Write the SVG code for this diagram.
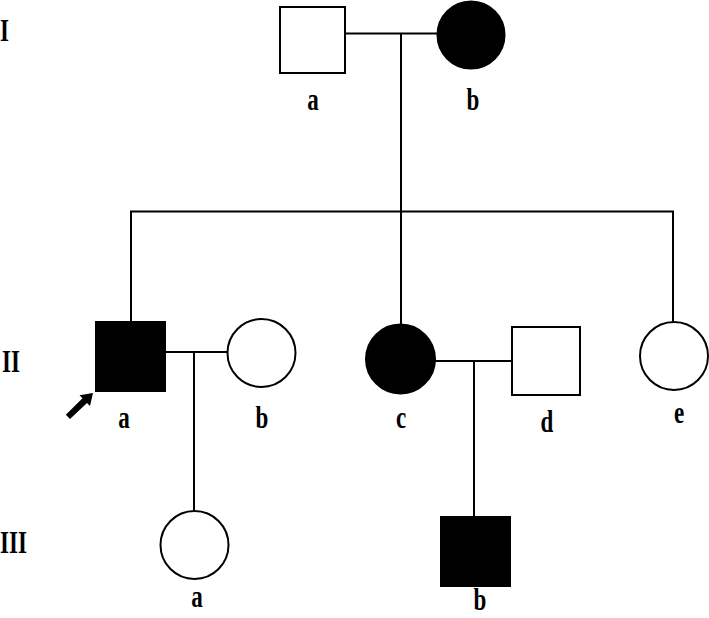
<svg xmlns="http://www.w3.org/2000/svg" width="709" height="618" viewBox="0 0 709 618">
<style>
.sym{stroke:#000;stroke-width:2;fill:#fff}
.aff{fill:#000}
.ln{stroke:#000;stroke-width:2;fill:none}
.t{font-family:"Liberation Serif","Times New Roman",serif;font-weight:bold;font-size:32px;fill:#000;text-anchor:middle}
.r{font-family:"Liberation Serif","Times New Roman",serif;font-weight:bold;font-size:32px;fill:#000;text-anchor:start}
</style>
<rect width="709" height="618" fill="#fff"/>
<g id="generation-labels">
<text class="r" transform="translate(0,41) scale(0.72,1)">I</text>
<text class="r" transform="translate(2,372) scale(0.72,1)">II</text>
<text class="r" transform="translate(0,553) scale(0.72,1)">III</text>
</g>
<g id="connectors">
<line class="ln" x1="345" y1="33.5" x2="438" y2="33.5"/>
<line class="ln" x1="401" y1="33.5" x2="401" y2="325"/>
<line class="ln" x1="130" y1="211.5" x2="674" y2="211.5"/>
<line class="ln" x1="131" y1="211.5" x2="131" y2="322"/>
<line class="ln" x1="673" y1="211.5" x2="673" y2="322"/>
<line class="ln" x1="165" y1="352" x2="227" y2="352"/>
<line class="ln" x1="194" y1="352" x2="194" y2="511"/>
<line class="ln" x1="435" y1="361" x2="512" y2="361"/>
<line class="ln" x1="474" y1="361" x2="474" y2="517"/>
</g>
<g id="I-a"><rect class="sym" x="280" y="7" width="65" height="66"/><text class="t" transform="translate(313,110) scale(0.72,1)">a</text></g>
<g id="I-b"><circle class="sym aff" cx="471" cy="35" r="33.5"/><text class="t" transform="translate(473,110) scale(0.72,1)">b</text></g>
<g id="II-a"><rect class="sym aff" x="96" y="322" width="69" height="69"/><text class="t" transform="translate(124,428) scale(0.72,1)">a</text>
<polygon fill="#000" points="65.8,414.7 82.5,398.2 79.5,395.2 93,393 90,406 87,403 70,419"/></g>
<g id="II-b"><circle class="sym" cx="261.5" cy="353" r="34"/><text class="t" transform="translate(262,428) scale(0.72,1)">b</text></g>
<g id="II-c"><circle class="sym aff" cx="400.5" cy="359" r="34.5"/><text class="t" transform="translate(401,428) scale(0.72,1)">c</text></g>
<g id="II-d"><rect class="sym" x="512" y="327" width="68" height="68"/><text class="t" transform="translate(547,432) scale(0.72,1)">d</text></g>
<g id="II-e"><circle class="sym" cx="674" cy="356" r="34"/><text class="t" transform="translate(679,423) scale(0.72,1)">e</text></g>
<g id="III-a"><circle class="sym" cx="194.5" cy="545" r="34"/><text class="t" transform="translate(197,607) scale(0.72,1)">a</text></g>
<g id="III-b"><rect class="sym aff" x="441" y="517" width="69" height="69"/><text class="t" transform="translate(480,610) scale(0.72,1)">b</text></g>
</svg>
